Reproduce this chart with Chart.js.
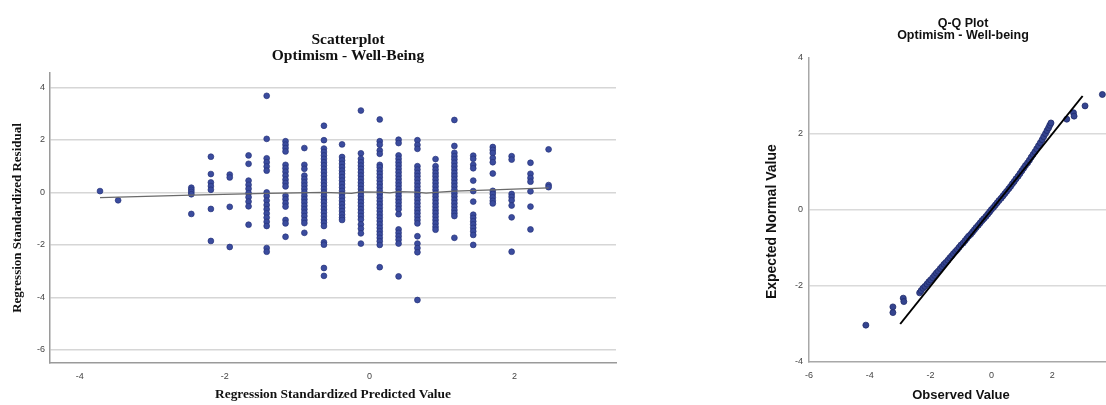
<!DOCTYPE html>
<html><head><meta charset="utf-8">
<script src="https://cdn.jsdelivr.net/npm/chart.js@4.4.1/dist/chart.umd.min.js"></script>
<style>
html,body{margin:0;padding:0;background:#fff;width:1106px;height:405px;overflow:hidden;position:relative;}
canvas{position:absolute;top:0;}
#left{left:0;width:700px;height:405px;}
#right{left:740px;width:460px;height:405px;}
</style></head><body>
<canvas id="left" width="700" height="405"></canvas>
<canvas id="right" width="460" height="405"></canvas>
<script>
// ---------- Scatterplot data ----------
const scatterTitle = ['Scatterplot', 'Optimism - Well-Being'];
const scatterXTitle = 'Regression Standardized Predicted Value';
const scatterYTitle = 'Regression Standardized Residual';
const scatterXTicks = [-4, -2, 0, 2];
const scatterYTicks = [-6, -4, -2, 0, 2, 4];
const predictedLevels = [-3.72, -3.47, -2.46, -2.19, -1.93, -1.67, -1.42, -1.16, -0.90, -0.63, -0.38, -0.12, 0.14, 0.40, 0.66, 0.91, 1.17, 1.43, 1.70, 1.96, 2.22, 2.47];
const residualsByLevel = [
  [0.05],
  [-0.3],
  [0.18, 0.1, 0.02, -0.07, -0.82],
  [1.36, 0.7, 0.38, 0.24, 0.1, -0.63, -1.85],
  [0.68, 0.57, -0.55, -2.08],
  [1.41, 1.09, 0.45, 0.29, 0.14, -0.03, -0.18, -0.35, -0.53, -1.23],
  [3.68, 2.04, 1.3, 1.15, 0.99, 0.83, 0.0, -0.14, -0.31, -0.48, -0.64, -0.8, -0.96, -1.12, -1.28, -2.12, -2.26],
  [1.95, 1.82, 1.69, 1.56, 1.05, 0.92, 0.79, 0.64, 0.49, 0.36, 0.23, -0.13, -0.26, -0.41, -0.54, -1.05, -1.18, -1.69],
  [1.69, 1.05, 0.9, 0.64, 0.51, 0.38, 0.26, 0.13, 0.0, -0.13, -0.26, -0.38, -0.51, -0.64, -0.77, -0.9, -1.05, -1.17, -1.54],
  [2.54, 1.99, 1.67, 1.54, 1.41, 1.28, 1.15, 1.03, 0.9, 0.77, 0.64, 0.51, 0.38, 0.26, 0.13, 0.0, -0.13, -0.26, -0.38, -0.51, -0.64, -0.77, -0.9, -1.03, -1.15, -1.28, -1.9, -1.99, -2.88, -3.18],
  [1.83, 1.35, 1.22, 1.09, 0.96, 0.83, 0.71, 0.58, 0.45, 0.32, 0.19, 0.06, -0.06, -0.19, -0.32, -0.45, -0.58, -0.71, -0.84, -0.96, -1.05],
  [3.12, 1.49, 1.28, 1.15, 1.02, 0.9, 0.77, 0.64, 0.51, 0.38, 0.26, 0.13, 0.0, -0.13, -0.26, -0.38, -0.51, -0.64, -0.77, -0.9, -1.03, -1.22, -1.38, -1.56, -1.95],
  [2.78, 1.95, 1.82, 1.6, 1.47, 1.05, 0.96, 0.83, 0.71, 0.58, 0.45, 0.32, 0.19, 0.06, -0.06, -0.19, -0.32, -0.45, -0.58, -0.71, -0.84, -0.96, -1.09, -1.22, -1.35, -1.48, -1.6, -1.73, -1.86, -2.0, -2.85],
  [2.01, 1.88, 1.41, 1.28, 1.15, 1.03, 0.9, 0.77, 0.64, 0.51, 0.38, 0.26, 0.13, 0.0, -0.13, -0.26, -0.38, -0.51, -0.64, -0.83, -1.41, -1.54, -1.67, -1.8, -1.95, -3.2],
  [1.99, 1.81, 1.66, 1.0, 0.87, 0.74, 0.62, 0.49, 0.36, 0.23, 0.1, -0.03, -0.15, -0.28, -0.41, -0.54, -0.67, -0.79, -0.92, -1.05, -1.18, -1.67, -1.95, -2.12, -2.28, -4.1],
  [1.27, 1.0, 0.87, 0.74, 0.62, 0.49, 0.36, 0.23, 0.1, -0.03, -0.15, -0.28, -0.41, -0.54, -0.67, -0.79, -0.92, -1.05, -1.18, -1.31, -1.42],
  [2.76, 1.77, 1.51, 1.38, 1.26, 1.13, 1.0, 0.87, 0.74, 0.62, 0.49, 0.36, 0.23, 0.1, -0.03, -0.15, -0.28, -0.41, -0.54, -0.67, -0.79, -0.9, -1.73],
  [1.4, 1.28, 1.05, 0.92, 0.45, 0.05, -0.35, -0.85, -0.97, -1.1, -1.22, -1.35, -1.48, -1.62, -2.0],
  [1.73, 1.62, 1.5, 1.31, 1.15, 0.72, 0.06, -0.06, -0.19, -0.32, -0.42],
  [1.38, 1.25, -0.06, -0.17, -0.3, -0.5, -0.95, -2.26],
  [1.13, 0.71, 0.55, 0.41, 0.04, -0.54, -1.41],
  [1.64, 0.28, 0.2]
];
const loessX = [-3.72, -2.46, -1.42, -0.63, -0.25, -0.12, 0.14, 0.28, 0.40, 0.65, 0.78, 0.91, 1.17, 1.70, 2.47];
const loessY = [-0.2, -0.1, -0.04, 0.0, -0.04, 0.02, 0.01, -0.02, 0.03, 0.01, -0.03, 0.0, 0.05, 0.1, 0.17];

// ---------- Q-Q plot data ----------
const qqTitle = ['Q-Q Plot', 'Optimism - Well-being'];
const qqXTitle = 'Observed Value';
const qqYTitle = 'Expected Normal Value';
const qqXTicks = [-6, -4, -2, 0, 2, 4];
const qqYTicks = [-4, -2, 0, 2, 4];
const qqObserved = [-4.13, -3.24, -3.24, -2.9, -2.88,
  -2.36, -2.31, -2.25, -2.19, -2.12, -2.06, -2.0, -1.93, -1.87, -1.81, -1.75, -1.68, -1.62, -1.56, -1.5, -1.43, -1.37, -1.31, -1.25, -1.18, -1.12, -1.06, -1.0, -0.93, -0.87, -0.81, -0.75, -0.68, -0.62, -0.56, -0.5, -0.43, -0.37, -0.31, -0.25, -0.18, -0.12, -0.06, 0.0, 0.07, 0.13, 0.19, 0.25, 0.32, 0.38, 0.44, 0.5, 0.57, 0.63, 0.69, 0.75, 0.81, 0.88, 0.94, 1.0, 1.06, 1.12, 1.19, 1.25, 1.31, 1.37, 1.43, 1.49, 1.55, 1.61, 1.67, 1.72, 1.78, 1.83, 1.88, 1.92, 1.96,
  2.48, 2.7, 2.72, 3.08, 3.65];
const qqExpected = [-3.03, -2.55, -2.7, -2.32, -2.41,
  -2.18, -2.12, -2.06, -2.01, -1.95, -1.89, -1.84, -1.78, -1.72, -1.66, -1.61, -1.54, -1.49, -1.43, -1.38, -1.32, -1.26, -1.21, -1.15, -1.09, -1.04, -0.98, -0.92, -0.87, -0.81, -0.75, -0.69, -0.64, -0.58, -0.52, -0.46, -0.4, -0.34, -0.28, -0.23, -0.17, -0.11, -0.05, 0.01, 0.07, 0.13, 0.19, 0.25, 0.31, 0.37, 0.43, 0.49, 0.56, 0.62, 0.69, 0.75, 0.82, 0.89, 0.96, 1.03, 1.1, 1.17, 1.24, 1.31, 1.39, 1.46, 1.53, 1.61, 1.69, 1.77, 1.85, 1.93, 2.01, 2.09, 2.16, 2.23, 2.29,
  2.39, 2.56, 2.47, 2.74, 3.04];
const qqLineX = [-3, 3];
const qqLineY = [-3, 3];

// ---------- Left chart ----------
const scatterPoints = [];
predictedLevels.forEach((x, i) => residualsByLevel[i].forEach(y => scatterPoints.push({x: x, y: y})));

const serif = 'Liberation Serif';
const sans = 'Liberation Sans';

new Chart(document.getElementById('left'), {
  type: 'scatter',
  data: {
    datasets: [
      { data: loessX.map((x, i) => ({x: x, y: loessY[i]})), showLine: true, borderColor: '#6a6a6a', borderWidth: 1.3, pointRadius: 0, fill: false },
      { data: scatterPoints, backgroundColor: '#3b4c9e', borderColor: '#25327a', borderWidth: 0.7, pointRadius: 2.9 }
    ]
  },
  options: {
    responsive: false, animation: false, events: [],
    layout: { padding: { left: 0, right: 4, top: 24, bottom: 0 } },
    plugins: {
      legend: { display: false }, tooltip: { enabled: false },
      title: { display: true, text: scatterTitle, color: '#111',
        font: { family: serif, size: 15.5, weight: 'bold', lineHeight: '16px' },
        padding: { top: 8, bottom: 9 } }
    },
    scales: {
      x: { type: 'linear', min: -4.41, max: 3.40,
        afterBuildTicks: s => { s.ticks = scatterXTicks.map(v => ({value: v})); },
        grid: { display: false, drawTicks: false },
        border: { display: true, color: '#9a9a9a', width: 1.5 },
        ticks: { font: { family: sans, size: 9 }, color: '#444', padding: 8 },
        title: { display: true, text: scatterXTitle, color: '#111',
          font: { family: serif, size: 13.4, weight: 'bold', lineHeight: 1.2 }, padding: { top: 4, bottom: 2 } },
        afterFit: s => { s.height = 42; } },
      y: { type: 'linear', min: -6.5, max: 4.55,
        afterBuildTicks: s => { s.ticks = scatterYTicks.map(v => ({value: v})); },
        grid: { color: '#d6d6d6', lineWidth: 1.5, drawTicks: false },
        border: { display: true, color: '#9a9a9a', width: 1.5 },
        ticks: { font: { family: sans, size: 9 }, color: '#444', padding: 5 },
        title: { display: true, text: scatterYTitle, color: '#111',
          font: { family: serif, size: 13, weight: 'bold', lineHeight: 1.2 }, padding: { top: 10, bottom: 0 } },
        afterFit: s => { s.width = 50; } },
      ySpacer: { type: 'linear', position: 'right', display: true,
        ticks: { display: false }, grid: { display: false }, border: { display: false },
        afterFit: s => { s.width = 80; } }
    }
  }
});

// ---------- Right chart ----------
new Chart(document.getElementById('right'), {
  type: 'scatter',
  data: {
    datasets: [
      { data: qqLineX.map((x, i) => ({x: x, y: qqLineY[i]})), showLine: true, borderColor: '#000', borderWidth: 2, pointRadius: 0, fill: false },
      { data: qqObserved.map((x, i) => ({x: x, y: qqExpected[i]})), backgroundColor: '#34448f', borderColor: '#1f2b6b', borderWidth: 0.8, pointRadius: 3 }
    ]
  },
  options: {
    responsive: false, animation: false, events: [],
    layout: { padding: { left: 0, right: 14, top: 0, bottom: 0 } },
    plugins: {
      legend: { display: false }, tooltip: { enabled: false },
      title: { display: true, text: qqTitle, color: '#111',
        font: { family: sans, size: 12.5, weight: 'bold', lineHeight: '12px' },
        padding: { top: 18, bottom: 16 } }
    },
    scales: {
      x: { type: 'linear', min: -6, max: 4,
        afterBuildTicks: s => { s.ticks = qqXTicks.map(v => ({value: v})); },
        grid: { display: false, drawTicks: false },
        border: { display: true, color: '#a8a8a8', width: 1.5 },
        ticks: { font: { family: sans, size: 9 }, color: '#444', padding: 8 },
        title: { display: true, text: qqXTitle, color: '#111',
          font: { family: sans, size: 13, weight: 'bold', lineHeight: 1.2 }, padding: { top: 4, bottom: 2 } },
        afterFit: s => { s.height = 43; } },
      y: { type: 'linear', min: -4, max: 4,
        afterBuildTicks: s => { s.ticks = qqYTicks.map(v => ({value: v})); },
        grid: { color: ctx => (ctx.tick && Math.abs(ctx.tick.value) === 4) ? 'rgba(0,0,0,0)' : '#dadada', lineWidth: 1.5, drawTicks: false },
        border: { display: true, color: '#a8a8a8', width: 1.5 },
        ticks: { font: { family: sans, size: 9 }, color: '#444', padding: 6 },
        title: { display: true, text: qqYTitle + '      ', color: '#111',
          font: { family: sans, size: 14, weight: 'bold', lineHeight: 1.2 }, padding: { top: 24, bottom: 0 } },
        afterFit: s => { s.width = 69; } },
      ySpacer: { type: 'linear', position: 'right', display: true,
        ticks: { display: false }, grid: { display: false }, border: { display: false },
        afterFit: s => { s.width = 73; } }
    }
  }
});
</script>
</body></html>
